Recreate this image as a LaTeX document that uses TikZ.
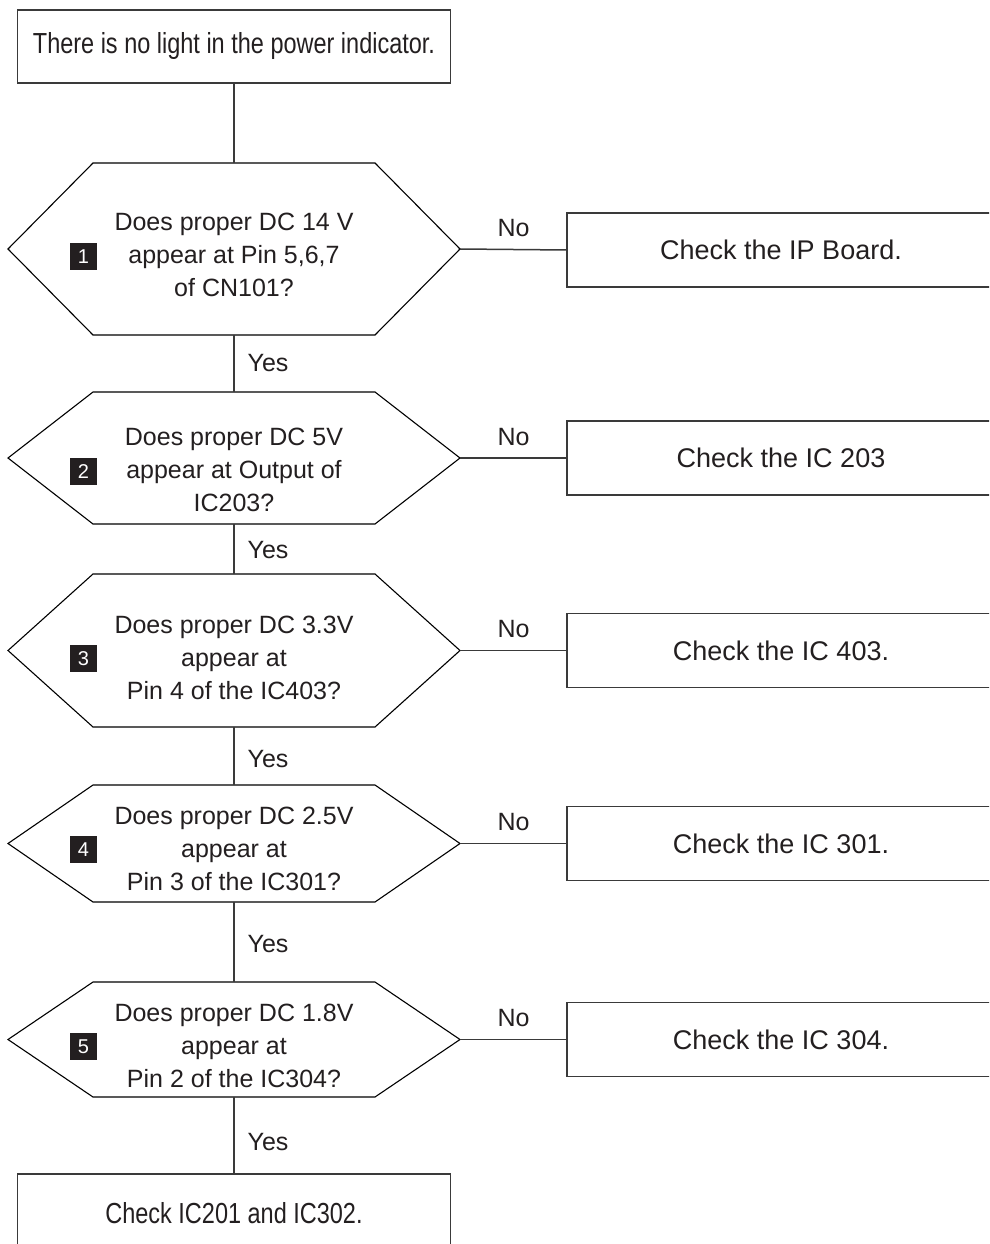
\documentclass[tikz,border=0pt]{standalone}
\usepackage{fontspec}
\setmainfont{Liberation Sans}
\newfontfamily\condfont[FakeStretch=0.81]{Liberation Sans}
\definecolor{ink}{HTML}{231F20}
\definecolor{linec}{HTML}{3A3A3A}
\begin{document}
\begin{tikzpicture}[x=1pt,y=-1pt,
  every node/.style={text=ink},
  termbox/.style={draw=linec, line width=1.5pt, inner sep=0pt, outer sep=0pt, minimum width=433pt, font=\condfont\fontsize{29}{34}\selectfont},
  checkbox/.style={draw=linec, line width=1.5pt, inner sep=0pt, outer sep=0pt, minimum width=428pt, minimum height=74pt, font=\fontsize{27}{32}\selectfont},
  hexbody/.style={inner sep=0pt, outer sep=0pt, minimum width=282pt},
  hexline/.style={draw=black, line width=1.1pt, line join=miter},
  qtext/.style={align=center, font=\fontsize{25}{33}\selectfont, inner sep=0pt},
  badge/.style={fill=ink, text=white, minimum size=27pt, inner sep=0pt, font=\fontsize{20}{20}\selectfont},
  conn/.style={draw=linec, line width=1.5pt},
  lbl/.style={font=\fontsize{25}{30}\selectfont, inner sep=0pt}
]
\useasboundingbox (0,0) rectangle (989,1244);
\clip (0,0) rectangle (989,1244);
\fill[white] (0,0) rectangle (989,1244);

% start and end boxes
\node[termbox, minimum height=73pt] (start) at (234,46.5) {There is no light in the power indicator.};
\node[termbox, minimum height=78pt] (finish) at (234,1213) {Check IC201 and IC302.};

% hexagon bodies
\node[hexbody, minimum height=172pt] (h1) at (234,249) {};
\node[hexbody, minimum height=132pt] (h2) at (234,458) {};
\node[hexbody, minimum height=153pt] (h3) at (234,650.5) {};
\node[hexbody, minimum height=117pt] (h4) at (234,843.5) {};
\node[hexbody, minimum height=115pt] (h5) at (234,1039.5) {};
\foreach \h in {h1,h2,h3,h4,h5}{
  \draw[hexline] ([xshift=-85pt]\h.west) -- (\h.north west) -- (\h.north east)
     -- ([xshift=85pt]\h.east) -- (\h.south east) -- (\h.south west) -- cycle;
  \coordinate (\h e) at ([xshift=85pt]\h.east);
}

% question texts
\node[qtext] (t1) at (234,255) {Does proper DC 14 V\\appear at Pin 5,6,7\\of CN101?};
\node[qtext] (t2) at (234,470) {Does proper DC 5V\\appear at Output of\\IC203?};
\node[qtext] (t3) at (234,658) {Does proper DC 3.3V\\appear at\\Pin 4 of the IC403?};
\node[qtext] (t4) at (234,849) {Does proper DC 2.5V\\appear at\\Pin 3 of the IC301?};
\node[qtext] (t5) at (234,1046) {Does proper DC 1.8V\\appear at\\Pin 2 of the IC304?};

% badges
\node[badge] (b1) at (83.5,256.5) {1};
\node[badge] (b2) at (83.5,471.5) {2};
\node[badge] (b3) at (83.5,658.5) {3};
\node[badge] (b4) at (83.5,849.5) {4};
\node[badge] (b5) at (83.5,1046.5) {5};

% right boxes
\node[checkbox] (r1) at (781,250) {Check the IP Board.};
\node[checkbox] (r2) at (781,458) {Check the IC 203};
\node[checkbox] (r3) at (781,650.5) {Check the IC 403.};
\node[checkbox] (r4) at (781,843.5) {Check the IC 301.};
\node[checkbox] (r5) at (781,1039.5) {Check the IC 304.};

% vertical connectors
\draw[conn] (start.south) -- (h1.north);
\draw[conn] (h1.south) -- (h2.north);
\draw[conn] (h2.south) -- (h3.north);
\draw[conn] (h3.south) -- (h4.north);
\draw[conn] (h4.south) -- (h5.north);
\draw[conn] (h5.south) -- (finish.north);

% horizontal connectors
\draw[conn] (h1e) -- (r1.west);
\draw[conn] (h2e) -- (r2.west);
\draw[conn] (h3e) -- (r3.west);
\draw[conn] (h4e) -- (r4.west);
\draw[conn] (h5e) -- (r5.west);

% labels
\node[lbl] (no1) at (513.5,228) {No};
\node[lbl] (no2) at (513.5,437) {No};
\node[lbl] (no3) at (513.5,629) {No};
\node[lbl] (no4) at (513.5,822) {No};
\node[lbl] (no5) at (513.5,1018) {No};
\node[lbl] (yes1) at (268,363) {Yes};
\node[lbl] (yes2) at (268,550) {Yes};
\node[lbl] (yes3) at (268,759) {Yes};
\node[lbl] (yes4) at (268,944) {Yes};
\node[lbl] (yes5) at (268,1142) {Yes};
\end{tikzpicture}
\end{document}
